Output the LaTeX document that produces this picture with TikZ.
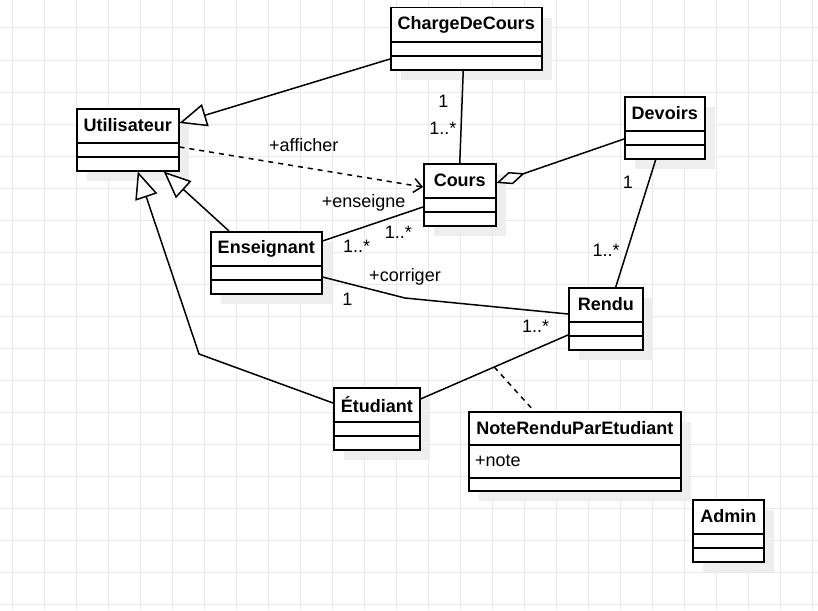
\documentclass[tikz,border=0pt]{standalone}
\usepackage{fontspec}
\setmainfont{Liberation Sans}
\usetikzlibrary{arrows.meta,shadows}

\definecolor{grille}{HTML}{E9E9E9}
\definecolor{ombre}{HTML}{EEEEEE}

\begin{document}
\begin{tikzpicture}[
    x=1pt, y=-1pt,
    font=\fontsize{18}{22}\selectfont,
    boite/.style={draw, fill=white, line width=1.5pt, anchor=north west, inner sep=0pt,
        drop shadow={shadow xshift=10pt, shadow yshift=-10pt, fill=ombre, draw=none, opacity=1}},
    titre/.style={anchor=center, yshift=-17.5pt, font=\fontsize{18}{22}\selectfont\bfseries},
    sep/.style={draw, line width=1.5pt},
    classe/.style={boite, minimum height=62pt, label={[titre]north:#1},
        append after command={
            ([yshift=-35pt]\tikzlastnode.north west) edge[sep] ([yshift=-35pt]\tikzlastnode.north east)
            ([yshift=-49pt]\tikzlastnode.north west) edge[sep] ([yshift=-49pt]\tikzlastnode.north east)}},
    lien/.style={line width=1.5pt},
    herite/.style={lien, -{Triangle[length=27pt, width=23pt, fill=white]}},
    agreg/.style={lien, {Diamond[length=30pt, width=13pt, fill=white]}-},
    depend/.style={lien, dash pattern=on 5pt off 5pt, -{Straight Barb[length=8pt, width=14pt]}},
    lab/.style={inner sep=0pt}
]
\useasboundingbox (0,0) rectangle (818,610);

% Grille de fond
\draw[grille, line width=1pt, xstep=32pt, ystep=32pt, shift={(12pt,-28pt)}] (-12,-28) grid (806,582);

% Classes
\node[classe=ChargeDeCours, minimum width=151pt] (cdc) at (390,7) {};
\node[classe=Utilisateur, minimum width=102pt] (util) at (76,108) {};
\node[classe=Cours, minimum width=72pt] (cours) at (423,163) {};
\node[classe=Devoirs, minimum width=80pt] (devoirs) at (624,96) {};
\node[classe=Enseignant, minimum width=111pt] (ens) at (210,231) {};
\node[classe=Rendu, minimum width=74pt] (rendu) at (568,287) {};
\node[classe=Étudiant, minimum width=86pt] (etud) at (333,387) {};
\node[classe=Admin, minimum width=71pt] (admin) at (692,499) {};

% Classe d'association
\node[boite, minimum width=212pt, minimum height=79pt, label={[titre]north:NoteRenduParEtudiant}] (note) at (468,411) {};
\node[lab, anchor=west] (attrnote) at ([xshift=7pt, yshift=-50pt]note.north west) {+note};
\draw[sep] ([yshift=-34pt]note.north west) -- ([yshift=-34pt]note.north east);
\draw[sep] ([yshift=-67pt]note.north west) -- ([yshift=-67pt]note.north east);

\coordinate (coude) at (199,354);
\coordinate (coude2) at (405,298);

% Héritage
\draw[herite] ([yshift=-52pt]cdc.north west) -- ([yshift=-15pt]util.north east);
\draw[herite] ([xshift=19pt]ens.north west) -- ([xshift=36pt]util.south);
\draw[herite] ([yshift=-16pt]etud.north west) -- (coude) -- ([xshift=10pt]util.south);

% Associations
\draw[lien] ([xshift=-3pt]cdc.south) -- (cours.north)
    node[lab, pos=0.33, left=13pt] {1}
    node[lab, pos=0.63, left=4pt] {1..*};
\draw[depend] ([yshift=-39pt]util.north east) -- ([yshift=-24pt]cours.north west)
    node[lab, pos=0.51, above=15pt] {+afficher};
\draw[agreg] ([yshift=-20pt]cours.north east) -- ([yshift=-43pt]devoirs.north west);
\draw[lien] ([xshift=-9pt]devoirs.south) -- ([xshift=10pt]rendu.north)
    node[lab, pos=0.18, left=15pt] {1}
    node[lab, pos=0.71, left=7pt] {1..*};
\draw[lien] ([yshift=-10pt]ens.north east) -- ([yshift=-44pt]cours.north west)
    node[lab, pos=0.41, above=15pt] {+enseigne}
    node[lab, pos=0.34, below=9.5pt] {1..*}
    node[lab, pos=0.755, below=10pt] {1..*};
\draw[lien] ([yshift=-46pt]ens.north east) -- (coude2)
    node[lab, pos=0.3, below=9pt] {1}
    node[lab, pos=1, above=12pt] {+corriger}
    -- ([yshift=-27pt]rendu.north west);
\draw[lien] ([yshift=-12pt]etud.north east) -- ([yshift=-48pt]rendu.north west)
    coordinate[pos=0.5] (mil)
    node[lab, pos=0.78, above=15.5pt] {1..*};
\draw[lien, dash pattern=on 5pt off 5pt] (mil) -- ([xshift=66pt]note.north west);

\end{tikzpicture}
\end{document}
